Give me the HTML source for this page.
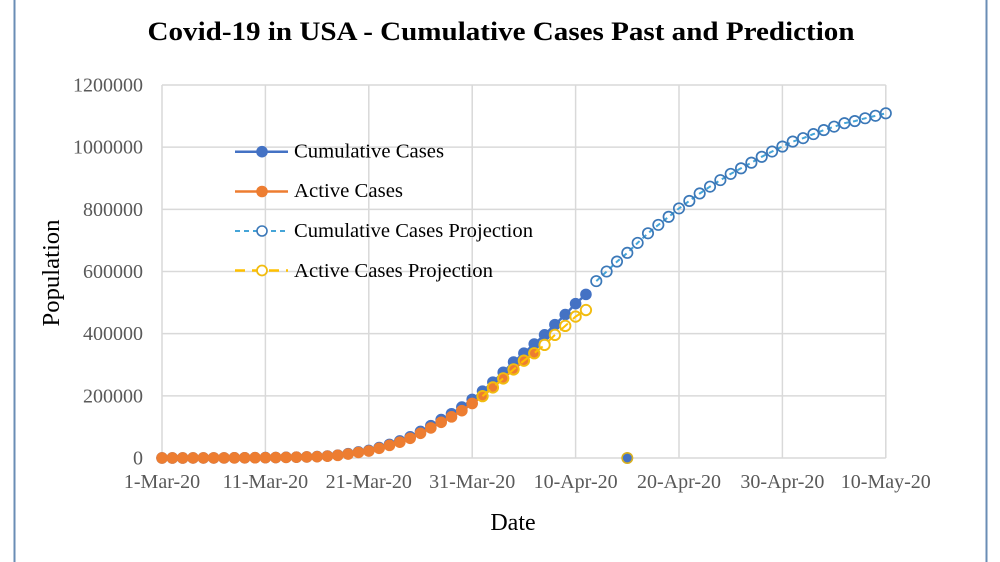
<!DOCTYPE html>
<html><head><meta charset="utf-8"><style>
html,body{margin:0;padding:0;background:#fff;}
svg{display:block;}
</style></head><body>
<svg id="c" width="1000" height="562" viewBox="0 0 1000 562" xmlns="http://www.w3.org/2000/svg">
<rect width="1000" height="562" fill="#fff"/>
<line x1="14.5" y1="0" x2="14.5" y2="562" stroke="#6a8db5" stroke-width="2"/>
<line x1="986.5" y1="0" x2="986.5" y2="562" stroke="#6a8db5" stroke-width="2"/>
<text x="501" y="40" text-anchor="middle" font-family="Liberation Serif, serif" font-weight="bold" font-size="26" textLength="707" lengthAdjust="spacingAndGlyphs">Covid-19 in USA - Cumulative Cases Past and Prediction</text>
<g id="grid" stroke="#d9d9d9" stroke-width="1.5" fill="none"></g>
<g id="ylab" font-family="Liberation Serif, serif" font-size="20" fill="#595959" text-anchor="end"></g>
<g id="xlab" font-family="Liberation Serif, serif" font-size="20" fill="#595959" text-anchor="middle"></g>
<text x="513" y="530" text-anchor="middle" font-family="Liberation Serif, serif" font-size="24" fill="#000">Date</text>
<text transform="translate(59,273) rotate(-90)" text-anchor="middle" font-family="Liberation Serif, serif" font-size="24" fill="#000" textLength="107" lengthAdjust="spacingAndGlyphs">Population</text>
<g id="series"></g>
<g font-family="Liberation Serif, serif" font-size="20.5" fill="#000">
<line x1="235" y1="151.7" x2="288" y2="151.7" stroke="#4472c4" stroke-width="2.5"/>
<circle cx="262" cy="151.7" r="5.8" fill="#4472c4"/>
<text x="294" y="157.5" textLength="150" lengthAdjust="spacingAndGlyphs">Cumulative Cases</text>
<line x1="235" y1="191.5" x2="288" y2="191.5" stroke="#ed7d31" stroke-width="2.5"/>
<circle cx="262" cy="191.5" r="5.8" fill="#ed7d31"/>
<text x="294" y="197" textLength="109" lengthAdjust="spacingAndGlyphs">Active Cases</text>
<line x1="235" y1="231" x2="288" y2="231" stroke="#45a5d8" stroke-width="2" stroke-dasharray="5,4"/>
<circle cx="262" cy="231" r="5" fill="#fff" stroke="#3b78b8" stroke-width="1.6"/>
<text x="294" y="237" textLength="239" lengthAdjust="spacingAndGlyphs">Cumulative Cases Projection</text>
<line x1="235" y1="270.5" x2="288" y2="270.5" stroke="#ffc000" stroke-width="2.5" stroke-dasharray="10,7"/>
<circle cx="262" cy="270.5" r="5" fill="#fff" stroke="#f2bc10" stroke-width="1.8"/>
<text x="294" y="277" textLength="199" lengthAdjust="spacingAndGlyphs">Active Cases Projection</text>
</g>
</svg>
<script>
(function(){
var NS="http://www.w3.org/2000/svg";
function el(tag,attrs,parent,txt){var e=document.createElementNS(NS,tag);for(var k in attrs)e.setAttribute(k,attrs[k]);if(txt!=null)e.textContent=txt;parent.appendChild(e);return e;}
var x0=162,dx=10.34,y0=458,sc=373/1200000;
function X(d){return x0+d*dx;}
function Y(v){return y0-v*sc;}
var grid=document.getElementById('grid'),yl=document.getElementById('ylab'),xl=document.getElementById('xlab');
for(var i=0;i<=6;i++){var v=i*200000,y=Y(v);el('line',{x1:x0,y1:y,x2:X(70),y2:y},grid);el('text',{x:143,y:y+6.5},yl,String(v));}
var labs=['1-Mar-20','11-Mar-20','21-Mar-20','31-Mar-20','10-Apr-20','20-Apr-20','30-Apr-20','10-May-20'];
for(var j=0;j<8;j++){var x=X(j*10);el('line',{x1:x,y1:Y(1200000),x2:x,y2:y0},grid);el('text',{x:x,y:488},xl,labs[j]);}
var cum=[75,100,124,158,221,319,435,541,704,994,1301,1630,2183,2770,3613,4596,6344,9197,13779,19367,24192,33592,43781,54856,68211,85435,104126,123578,142393,163788,188592,215003,244008,275586,308850,337072,366667,396223,429052,461437,496535,526396];
var act=[];for(var k=0;k<31;k++)act.push(cum[k]*0.93);
var yel=[199000,227000,256000,285000,313000,337000,364000,396000,425000,455000,476000];
for(var k=0;k<6;k++)act.push(yel[k]);
var proj=[569,600,632,660,692,723,750,776,803,827,851,873,894,914,932,950,969,986,1002,1018,1029,1042,1055,1066,1077,1084,1093,1101,1109];
var s=document.getElementById('series');
function pts(arr,start){var p=[];for(var i=0;i<arr.length;i++)p.push(X(start+i).toFixed(1)+','+Y(arr[i]).toFixed(1));return p.join(' ');}
el('polyline',{points:pts(cum,0),fill:'none',stroke:'#4472c4','stroke-width':2.5},s);
for(var i=0;i<cum.length;i++)el('circle',{cx:X(i),cy:Y(cum[i]),r:5.8,fill:'#4472c4'},s);
el('polyline',{points:pts(act,0),fill:'none',stroke:'#ed7d31','stroke-width':2.5},s);
for(var i=0;i<act.length;i++)el('circle',{cx:X(i),cy:Y(act[i]),r:5.8,fill:'#ed7d31'},s);
var pv=proj.map(function(v){return v*1000;});
el('polyline',{points:pts(pv,42),fill:'none',stroke:'#45a5d8','stroke-width':2,'stroke-dasharray':'5,4'},s);
for(var i=0;i<pv.length;i++)el('circle',{cx:X(42+i),cy:Y(pv[i]),r:5.2,fill:'none',stroke:'#3b78b8','stroke-width':1.7},s);
el('polyline',{points:pts(yel,31),fill:'none',stroke:'#ffc000','stroke-width':2,'stroke-dasharray':'10,7'},s);
for(var i=0;i<yel.length;i++)el('circle',{cx:X(31+i),cy:Y(yel[i]),r:5.2,fill:'none',stroke:'#f2bc10','stroke-width':1.9},s);
el('circle',{cx:X(45),cy:y0,r:5.2,fill:'#4472c4',stroke:'#d8b020','stroke-width':1.6},s);
})();
</script>
</body></html>
